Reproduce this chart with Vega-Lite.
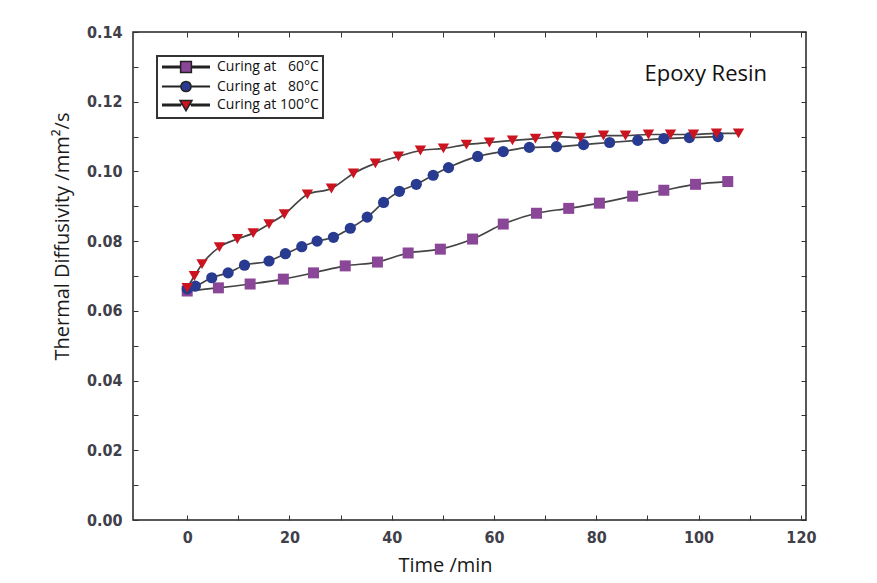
{
  "$schema": "https://vega.github.io/schema/vega-lite/v6.json",
  "autosize": "none",
  "width": 673,
  "height": 488,
  "padding": {"left": 133, "top": 32, "right": 71, "bottom": 63},
  "background": "white",
  "config": {
    "view": {"stroke": "#222222", "strokeWidth": 1.5},
    "axis": {
      "grid": false,
      "domain": false,
      "tickColor": "#333333",
      "tickSize": -5,
      "tickWidth": 1,
      "labelFont": "DejaVu Sans Condensed, Liberation Sans Narrow, Liberation Sans",
      "labelFontWeight": "bold",
      "labelFontSize": 16,
      "labelColor": "#40404a",
      "titleFont": "Open Sans",
      "titleFontSize": 20,
      "titleFontWeight": "normal",
      "titleColor": "#1a1a1a"
    }
  },
  "datasets": {
    "d": [
      {"series": "Curing at \u200760°C", "time": 0, "diffusivity": 0.0657},
      {"series": "Curing at \u200760°C", "time": 6.1, "diffusivity": 0.0666},
      {"series": "Curing at \u200760°C", "time": 12.3, "diffusivity": 0.0677},
      {"series": "Curing at \u200760°C", "time": 18.8, "diffusivity": 0.0691},
      {"series": "Curing at \u200760°C", "time": 24.7, "diffusivity": 0.0709},
      {"series": "Curing at \u200760°C", "time": 30.9, "diffusivity": 0.0729},
      {"series": "Curing at \u200760°C", "time": 37.2, "diffusivity": 0.074},
      {"series": "Curing at \u200760°C", "time": 43.2, "diffusivity": 0.0766},
      {"series": "Curing at \u200760°C", "time": 49.5, "diffusivity": 0.0777},
      {"series": "Curing at \u200760°C", "time": 55.8, "diffusivity": 0.0806},
      {"series": "Curing at \u200760°C", "time": 61.8, "diffusivity": 0.0849},
      {"series": "Curing at \u200760°C", "time": 68.3, "diffusivity": 0.088},
      {"series": "Curing at \u200760°C", "time": 74.6, "diffusivity": 0.0894},
      {"series": "Curing at \u200760°C", "time": 80.6, "diffusivity": 0.0909},
      {"series": "Curing at \u200760°C", "time": 87.1, "diffusivity": 0.0929},
      {"series": "Curing at \u200760°C", "time": 93.2, "diffusivity": 0.0946},
      {"series": "Curing at \u200760°C", "time": 99.4, "diffusivity": 0.0963},
      {"series": "Curing at \u200760°C", "time": 105.7, "diffusivity": 0.0971},
      {"series": "Curing at \u200780°C", "time": 0, "diffusivity": 0.0663},
      {"series": "Curing at \u200780°C", "time": 1.6, "diffusivity": 0.0671},
      {"series": "Curing at \u200780°C", "time": 4.8, "diffusivity": 0.0695},
      {"series": "Curing at \u200780°C", "time": 8.0, "diffusivity": 0.0709},
      {"series": "Curing at \u200780°C", "time": 11.2, "diffusivity": 0.0731},
      {"series": "Curing at \u200780°C", "time": 16.0, "diffusivity": 0.0743},
      {"series": "Curing at \u200780°C", "time": 19.2, "diffusivity": 0.0764},
      {"series": "Curing at \u200780°C", "time": 22.4, "diffusivity": 0.0784},
      {"series": "Curing at \u200780°C", "time": 25.4, "diffusivity": 0.08},
      {"series": "Curing at \u200780°C", "time": 28.6, "diffusivity": 0.0811},
      {"series": "Curing at \u200780°C", "time": 31.9, "diffusivity": 0.0837},
      {"series": "Curing at \u200780°C", "time": 35.2, "diffusivity": 0.0869},
      {"series": "Curing at \u200780°C", "time": 38.4, "diffusivity": 0.0911},
      {"series": "Curing at \u200780°C", "time": 41.5, "diffusivity": 0.0943},
      {"series": "Curing at \u200780°C", "time": 44.8, "diffusivity": 0.0963},
      {"series": "Curing at \u200780°C", "time": 48.1, "diffusivity": 0.0989},
      {"series": "Curing at \u200780°C", "time": 51.1, "diffusivity": 0.1011},
      {"series": "Curing at \u200780°C", "time": 56.8, "diffusivity": 0.1043},
      {"series": "Curing at \u200780°C", "time": 61.8, "diffusivity": 0.1057},
      {"series": "Curing at \u200780°C", "time": 66.9, "diffusivity": 0.1069},
      {"series": "Curing at \u200780°C", "time": 72.2, "diffusivity": 0.1071},
      {"series": "Curing at \u200780°C", "time": 77.5, "diffusivity": 0.1077},
      {"series": "Curing at \u200780°C", "time": 82.6, "diffusivity": 0.1083},
      {"series": "Curing at \u200780°C", "time": 88.1, "diffusivity": 0.1089},
      {"series": "Curing at \u200780°C", "time": 93.2, "diffusivity": 0.1094},
      {"series": "Curing at \u200780°C", "time": 98.2, "diffusivity": 0.1097},
      {"series": "Curing at \u200780°C", "time": 103.8, "diffusivity": 0.11},
      {"series": "Curing at 100°C", "time": 0, "diffusivity": 0.0666},
      {"series": "Curing at 100°C", "time": 1.4, "diffusivity": 0.07},
      {"series": "Curing at 100°C", "time": 2.9, "diffusivity": 0.0734},
      {"series": "Curing at 100°C", "time": 6.3, "diffusivity": 0.0783},
      {"series": "Curing at 100°C", "time": 9.8, "diffusivity": 0.0806},
      {"series": "Curing at 100°C", "time": 12.9, "diffusivity": 0.0823},
      {"series": "Curing at 100°C", "time": 16.0, "diffusivity": 0.0849},
      {"series": "Curing at 100°C", "time": 19.0, "diffusivity": 0.0877},
      {"series": "Curing at 100°C", "time": 23.5, "diffusivity": 0.0934},
      {"series": "Curing at 100°C", "time": 28.2, "diffusivity": 0.0951},
      {"series": "Curing at 100°C", "time": 32.5, "diffusivity": 0.0994},
      {"series": "Curing at 100°C", "time": 36.8, "diffusivity": 0.1023},
      {"series": "Curing at 100°C", "time": 41.3, "diffusivity": 0.1043},
      {"series": "Curing at 100°C", "time": 45.6, "diffusivity": 0.106},
      {"series": "Curing at 100°C", "time": 50.1, "diffusivity": 0.1066},
      {"series": "Curing at 100°C", "time": 54.6, "diffusivity": 0.1077},
      {"series": "Curing at 100°C", "time": 59.1, "diffusivity": 0.1083},
      {"series": "Curing at 100°C", "time": 63.6, "diffusivity": 0.1089},
      {"series": "Curing at 100°C", "time": 68.1, "diffusivity": 0.1094},
      {"series": "Curing at 100°C", "time": 72.4, "diffusivity": 0.11},
      {"series": "Curing at 100°C", "time": 76.9, "diffusivity": 0.1097},
      {"series": "Curing at 100°C", "time": 81.4, "diffusivity": 0.1103},
      {"series": "Curing at 100°C", "time": 85.7, "diffusivity": 0.1103},
      {"series": "Curing at 100°C", "time": 90.2, "diffusivity": 0.1106},
      {"series": "Curing at 100°C", "time": 94.5, "diffusivity": 0.1106},
      {"series": "Curing at 100°C", "time": 99.0, "diffusivity": 0.1106},
      {"series": "Curing at 100°C", "time": 103.5, "diffusivity": 0.1109},
      {"series": "Curing at 100°C", "time": 107.8, "diffusivity": 0.1109}
    ]
  },
  "layer": [
    {
      "data": {"name": "d"},
      "mark": {"type": "line", "color": "#444444", "strokeWidth": 1.7, "interpolate": "monotone"},
      "encoding": {
        "x": {
          "field": "time", "type": "quantitative",
          "scale": {"domain": [-10.6, 121], "nice": false, "zero": false},
          "axis": {
            "orient": "bottom",
            "title": "Time /min",
            "values": [0, 10, 20, 30, 40, 50, 60, 70, 80, 90, 100, 110, 120],
            "labelExpr": "datum.value % 20 === 0 ? datum.label : ''",
            "format": "d",
            "labelPadding": 14,
            "titlePadding": 10,
            "titleX": 312
          }
        },
        "y": {
          "field": "diffusivity", "type": "quantitative",
          "scale": {"domain": [0, 0.14], "nice": false},
          "axis": {
            "orient": "left",
            "title": "Thermal Diffusivity /mm²/s",
            "values": [0, 0.01, 0.02, 0.03, 0.04, 0.05, 0.06, 0.07, 0.08, 0.09, 0.1, 0.11, 0.12, 0.13, 0.14],
            "labelExpr": "round(datum.value * 100) % 2 === 0 ? format(datum.value, '.2f') : ''",
            "labelPadding": 16,
            "titleX": -71,
            "titleY": 204,
            "titleBaseline": "middle"
          }
        },
        "detail": {"field": "series"}
      }
    },
    {
      "data": {"name": "d"},
      "mark": {"type": "point", "filled": true, "opacity": 1},
      "encoding": {
        "x": {
          "field": "time", "type": "quantitative",
          "axis": {"orient": "top", "title": null, "labels": false,
            "values": [0, 10, 20, 30, 40, 50, 60, 70, 80, 90, 100, 110, 120]}
        },
        "y": {
          "field": "diffusivity", "type": "quantitative",
          "axis": {"orient": "right", "title": null, "labels": false,
            "values": [0, 0.01, 0.02, 0.03, 0.04, 0.05, 0.06, 0.07, 0.08, 0.09, 0.1, 0.11, 0.12, 0.13, 0.14]}
        },
        "shape": {
          "field": "series", "type": "nominal",
          "scale": {"domain": ["Curing at \u200760°C", "Curing at \u200780°C", "Curing at 100°C"], "range": ["square", "circle", "triangle-down"]},
          "legend": null
        },
        "color": {
          "field": "series", "type": "nominal",
          "scale": {"domain": ["Curing at \u200760°C", "Curing at \u200780°C", "Curing at 100°C"], "range": ["#8b4797", "#283b90", "#cc1421"]},
          "legend": null
        },
        "size": {
          "field": "series", "type": "nominal",
          "scale": {"domain": ["Curing at \u200760°C", "Curing at \u200780°C", "Curing at 100°C"], "range": [121, 130, 190]},
          "legend": null
        }
      }
    },
    {
      "data": {"name": "d"},
      "mark": {"type": "point", "filled": true, "opacity": 0},
      "encoding": {
        "x": {"field": "time", "type": "quantitative", "axis": null},
        "y": {"field": "diffusivity", "type": "quantitative", "axis": null},
        "shape": {
          "field": "series", "type": "nominal",
          "scale": {"domain": ["Curing at \u200760°C", "Curing at \u200780°C", "Curing at 100°C"],
            "range": [
              "M-1,-0.12H2.2M3.8,-0.12H7M-1,0.12H2.2M3.8,0.12H7M2.1,-0.9H3.9V0.9H2.1Z",
              "M-1,-0.05H2.2M3.8,-0.05H7M-1,0.05H2.2M3.8,0.05H7M3.85,0A0.85,0.85,0,1,1,2.15,0A0.85,0.85,0,1,1,3.85,0Z",
              "M-1,-0.12H2.2M3.8,-0.12H7M-1,0.12H2.2M3.8,0.12H7M2,-0.75H4L3,0.95Z"
            ]},
          "legend": {
            "title": null,
            "orient": "none",
            "legendX": 24,
            "legendY": 24,
            "direction": "vertical",
            "strokeColor": "#333333",
            "padding": 4,
            "symbolSize": 144,
            "labelOffset": 42,
            "labelFont": "Open Sans",
            "labelFontSize": 14,
            "labelColor": "#111111",
            "rowPadding": 1.5,
            "encode": {
              "symbols": {"update": {"stroke": {"value": "#222222"}, "strokeWidth": {"value": 1.5}, "opacity": {"value": 1}}},
              "legend": {"update": {"strokeWidth": {"value": 2}}}
            }
          }
        },
        "color": {
          "field": "series", "type": "nominal",
          "scale": {"domain": ["Curing at \u200760°C", "Curing at \u200780°C", "Curing at 100°C"], "range": ["#8b4797", "#283b90", "#cc1421"]},
          "legend": {
            "title": null,
            "orient": "none",
            "legendX": 24,
            "legendY": 24,
            "direction": "vertical",
            "strokeColor": "#333333",
            "padding": 4,
            "symbolSize": 144,
            "labelOffset": 42,
            "labelFont": "Open Sans",
            "labelFontSize": 14,
            "labelColor": "#111111",
            "rowPadding": 1.5,
            "encode": {
              "symbols": {"update": {"stroke": {"value": "#222222"}, "strokeWidth": {"value": 1.5}, "opacity": {"value": 1}}},
              "legend": {"update": {"strokeWidth": {"value": 2}}}
            }
          }
        }
      }
    },
    {
      "data": {"values": [{"time": 101.4, "diffusivity": 0.128, "label": "Epoxy Resin"}]},
      "mark": {"type": "text", "font": "Open Sans", "fontSize": 22, "color": "#111111", "align": "center", "baseline": "middle"},
      "encoding": {
        "x": {"field": "time", "type": "quantitative", "axis": null},
        "y": {"field": "diffusivity", "type": "quantitative", "axis": null},
        "text": {"field": "label"}
      }
    }
  ],
  "resolve": {"scale": {"shape": "independent", "color": "independent", "size": "independent"}}
}
